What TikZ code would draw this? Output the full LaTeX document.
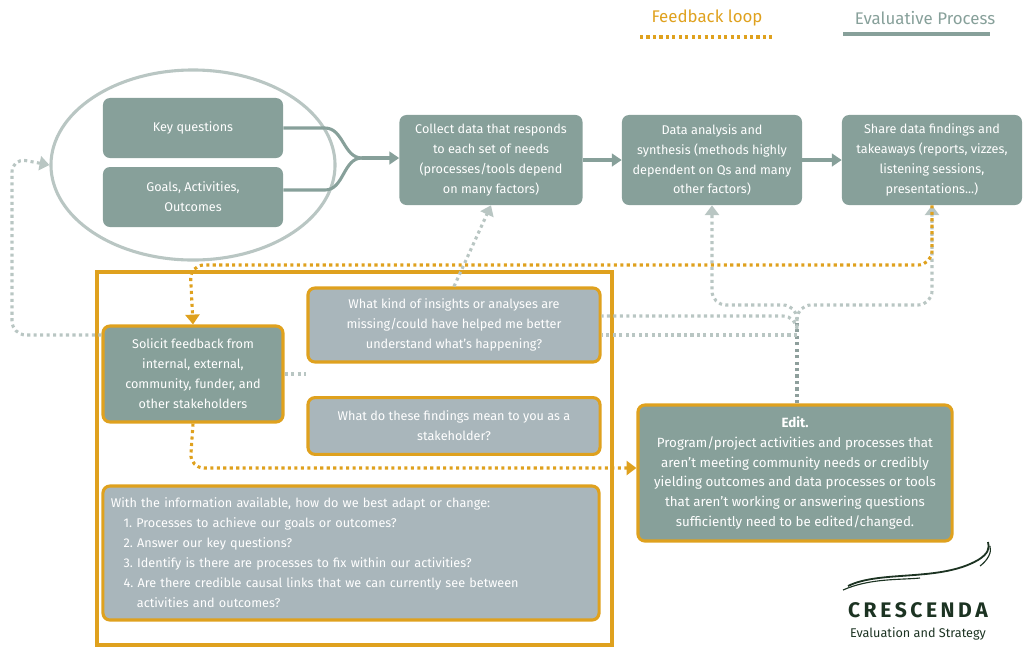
\documentclass[tikz,border=0pt]{standalone}
\usepackage{fontspec}
\setmainfont{Fira Sans}
\usetikzlibrary{arrows.meta, positioning, shapes.geometric}
\definecolor{sage}{HTML}{87A09A}
\definecolor{slate}{HTML}{A9B6BB}
\definecolor{gold}{HTML}{DFA11E}
\definecolor{mist}{HTML}{B9C6C3}
\definecolor{darkmist}{HTML}{8E9F9C}
\definecolor{forest}{HTML}{1C3322}
\tikzset{
  box/.style={rectangle, rounded corners=5pt, fill=sage, text=white,
    align=center, font=\fontsize{9}{14.2}\selectfont, inner sep=2pt},
  qbox/.style={box, fill=slate, draw=gold, line width=2.2pt},
  fbox/.style={box, draw=gold, line width=2.2pt},
  flow/.style={draw=sage, line width=2.2pt, -{Triangle[length=7pt,width=9pt]}},
  greyloop/.style={draw=mist, line width=2.2pt, dash pattern=on 2.2pt off 2.4pt,
    rounded corners=10pt},
  goldloop/.style={draw=gold, line width=2.2pt, dash pattern=on 2.2pt off 2.4pt,
    rounded corners=10pt},
  tip/.style={-{Triangle[length=7pt,width=10pt]}}
}
\begin{document}
\begin{tikzpicture}[x=0.025cm, y=-0.025cm]
\useasboundingbox (0,0) rectangle (1024,647);

% legend
\node[text=gold, font=\fontsize{12}{14}\selectfont] (lgold) at (707,18) {Feedback loop};
\draw[gold, line width=2.2pt, dash pattern=on 2.2pt off 2.4pt] (640,37) -- (772,37);
\node[text=sage, font=\fontsize{12}{14}\selectfont] (lgrey) at (925,18) {Evaluative Process};
\draw[sage, line width=2.2pt] (843,34) -- (990,34);

% top row
\node[ellipse, draw=mist, line width=2.2pt, minimum width=7.1cm, minimum height=4.75cm] (ring) at (193,165) {};
\node[box, minimum width=4.5cm, minimum height=1.5cm] (keyq) at (193,128) {Key questions};
\node[box, minimum width=4.5cm, minimum height=1.5cm] (goals) at (193,197) {Goals, Activities,\\Outcomes};
\node[box, minimum width=4.575cm, minimum height=2.25cm] (collect) at (491,160)
  {Collect data that responds\\to each set of needs\\(processes/tools depend\\on many factors)};
\node[box, minimum width=4.5cm, minimum height=2.25cm] (analysis) at (712,160)
  {Data analysis and\\synthesis (methods highly\\dependent on Qs and many\\other factors)};
\node[box, minimum width=4.5cm, minimum height=2.25cm] (share) at (932,160)
  {Share data findings and\\takeaways (reports, vizzes,\\listening sessions,\\presentations...)};

\coordinate (merge) at (362,158);
\draw[sage, line width=2.2pt] (keyq.east |- 0,128) -- (325,128) to[out=0,in=180] (merge);
\draw[sage, line width=2.2pt] (goals.east |- 0,190) -- (325,190) to[out=0,in=180] (merge);
\draw[flow] (merge) -- (collect.west |- merge);
\draw[flow] (collect) -- (analysis);
\draw[flow] (analysis) -- (share);

% feedback area
\draw[gold, line width=2.2pt] (97,272) rectangle (612,645);
\node[qbox, minimum width=7.3cm, minimum height=1.85cm] (insight) at (454,325)
  {What kind of insights or analyses are\\missing/could have helped me better\\understand what's happening?};
\node[qbox, minimum width=7.3cm, minimum height=1.42cm] (meaning) at (454,426)
  {What do these findings mean to you as a\\stakeholder?};
\node[fbox, minimum width=4.5cm, minimum height=2.4cm] (solicit) at (193,374)
  {Solicit feedback from\\internal, external,\\community, funder, and\\other stakeholders};
\node[qbox, minimum width=12.4cm, minimum height=3.35cm, align=left, text width=12cm] (adapt) at (351,553)
  {With the information available, how do we best adapt or change:\\
  \hspace*{1em}1.\ Processes to achieve our goals or outcomes?\\
  \hspace*{1em}2.\ Answer our key questions?\\
  \hspace*{1em}3.\ Identify is there are processes to fix within our activities?\\
  \hspace*{1em}4.\ Are there credible causal links that we can currently see between\\
  \hspace*{2.05em}activities and outcomes?};
\node[fbox, minimum width=7.85cm, minimum height=3.4cm, font=\fontsize{9.5}{14.2}\selectfont] (edit) at (795,473)
  {\textbf{Edit.}\\Program/project activities and processes that\\aren't meeting community needs or credibly\\yielding outcomes and data processes or tools\\that aren't working or answering questions\\sufficiently need to be edited/changed.};

% grey loops
\coordinate (fork) at (797,318);
\draw[greyloop, draw=darkmist] (edit.north -| fork) -- (fork);
\draw[greyloop, tip] (fork) -- (797,305) -- (712,305) -- (analysis.south);
\draw[greyloop, tip] (fork) -- (797,305) -- (932,305) -- (share.south);
\draw[greyloop] (fork) -- (797,316) -- (insight.east |- 0,316);
\draw[greyloop] (797,335) -- (insight.east |- 0,335);
\draw[greyloop, tip] (insight.north) -- (collect.south);
\draw[greyloop] (solicit.east) -- (insight.west |- solicit.east);
\draw[greyloop, tip] (solicit.west |- 0,335) -- (12,335) -- (12,158) -- (ring.west);

% gold loops
\draw[goldloop, tip] (share.south) -- (932,265) -- (190,265) -- (solicit.north);
\draw[goldloop, tip] (solicit.south) -- (190,468) -- (edit.west |- 0,468);

% logo
\draw[forest, line width=1.3pt] (848,586) .. controls (880,570) and (940,582) .. (978,560) .. controls (988,554) and (990,548) .. (988,542);
\draw[forest, line width=0.8pt] (843,590) .. controls (870,578) and (900,580) .. (920,578);
\draw[forest, line width=0.8pt] (980,566) .. controls (988,560) and (992,552) .. (990,546);
\node[text=forest, font=\fontsize{15}{16}\bfseries] (brand) at (918,610) {C\,R\,E\,S\,C\,E\,N\,D\,A};
\node[text=forest, font=\fontsize{9}{10}\selectfont, below=0pt of brand] (tagline) {Evaluation and Strategy};
\end{tikzpicture}
\end{document}
